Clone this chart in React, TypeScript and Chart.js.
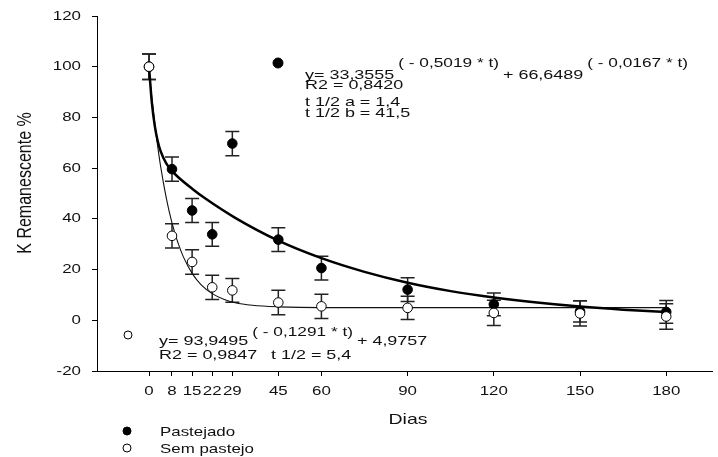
import React, { useEffect, useRef } from 'react';
import { Chart, registerables } from 'chart.js';

Chart.register(...registerables);

// Days of sampling (x axis) and tick labels
const dias = [0, 8, 15, 22, 29, 45, 60, 90, 120, 150, 180];
const yTicks = [-20, 0, 20, 40, 60, 80, 100, 120];

// K remaining (%) and standard errors
const pastejado = [100, 59.6, 43.3, 33.9, 69.7, 31.8, 20.6, 12.1, 6.3, 3.5, 3.3];
const pastejadoErr = [5, 4.8, 4.7, 4.7, 4.8, 4.7, 4.7, 4.7, 4.5, 4.2, 4.5];
const semPastejo = [100, 33.3, 23, 13, 11.8, 7, 5.5, 4.9, 2.9, 2.7, 1.5];
const semPastejoErr = [5, 4.8, 4.8, 4.8, 4.7, 4.8, 4.8, 4.6, 5, 5, 5];

// fitted curves
const pastejadoCurveT = [0, 1, 2, 3, 4, 6, 8, 10, 15, 20, 30, 45, 60, 75, 90, 105, 120, 135, 150, 165, 180];
const pastejadoCurve = [100, 85.7, 76.7, 70.8, 66.8, 61.9, 58.9, 56.6, 51.9, 47.7, 40.4, 31.4, 24.5, 19.1, 14.8, 11.5, 9.0, 7.0, 5.4, 4.2, 3.3];
const semCurveT = [0, 1, 2, 3, 4, 6, 8, 10, 12, 15, 18, 22, 26, 30, 36, 45, 60, 90, 120, 150, 180];
const semCurve = [98.9, 87.6, 77.6, 68.8, 61.0, 48.3, 38.4, 30.8, 24.9, 18.5, 14.2, 10.5, 8.3, 6.9, 5.9, 5.3, 5.0, 5.0, 5.0, 5.0, 5.0];

const FONT = '"Liberation Sans", Arial, sans-serif';

// draws text stretched sideways like the original; returns the end x
function txt(ctx: CanvasRenderingContext2D, s: string, x: number, y: number, size: number, align: CanvasTextAlign = 'left', base: CanvasTextBaseline = 'alphabetic', sx = 1.3) {
  ctx.save();
  ctx.font = `${size}px ${FONT}`;
  ctx.fillStyle = '#111';
  ctx.textAlign = align;
  ctx.textBaseline = base;
  const w = ctx.measureText(s).width * sx;
  ctx.translate(x, y);
  ctx.scale(sx, 1);
  ctx.fillText(s, 0, 0);
  ctx.restore();
  return x + w;
}

function dot(ctx: CanvasRenderingContext2D, x: number, y: number, r: number, filled: boolean) {
  ctx.save();
  ctx.beginPath();
  ctx.arc(x, y, r, 0, Math.PI * 2);
  ctx.fillStyle = filled ? '#000' : '#fff';
  ctx.fill();
  ctx.lineWidth = 1;
  ctx.strokeStyle = '#000';
  ctx.stroke();
  ctx.restore();
}

const errorBars = {
  id: 'errorBars',
  beforeDatasetsDraw(chart: any) {
    const { ctx } = chart;
    const xs = chart.scales.x;
    const ys = chart.scales.y;
    ctx.save();
    ctx.strokeStyle = '#222';
    ctx.lineWidth = 1.5;
    const series: [number[], number[]][] = [[pastejado, pastejadoErr], [semPastejo, semPastejoErr]];
    series.forEach(([vals, errs]) => {
      vals.forEach((v, i) => {
        const x = xs.getPixelForValue(dias[i]);
        const t = ys.getPixelForValue(v + errs[i]);
        const b = ys.getPixelForValue(v - errs[i]);
        ctx.beginPath();
        ctx.moveTo(x, t); ctx.lineTo(x, b);
        ctx.moveTo(x - 7, t); ctx.lineTo(x + 7, t);
        ctx.moveTo(x - 7, b); ctx.lineTo(x + 7, b);
        ctx.stroke();
      });
    });
    ctx.restore();
  },
};

const texts = {
  id: 'texts',
  afterDraw(chart: any) {
    const { ctx } = chart;
    const xs = chart.scales.x;
    const ys = chart.scales.y;
    dias.forEach(d => txt(ctx, String(d), xs.getPixelForValue(d), 395, 13, 'center'));
    yTicks.forEach(v => txt(ctx, String(v), 81, ys.getPixelForValue(v), 13, 'right', 'middle'));

    txt(ctx, 'Dias', 408, 424, 15, 'center');
    ctx.save();
    ctx.translate(25, 183);
    ctx.rotate(-Math.PI / 2);
    ctx.scale(1, 1.3);
    ctx.font = `16px ${FONT}`;
    ctx.fillStyle = '#111';
    ctx.textAlign = 'center';
    ctx.textBaseline = 'middle';
    ctx.fillText('K Remanescente %', 0, 0);
    ctx.restore();

    const a = 1.38;
    const L = 'left';
    const B = 'alphabetic';

    // equation for Pastejado
    dot(ctx, 278, 63, 5, true);
    let x = txt(ctx, 'y= 33,3555', 305, 79, 13, L, B, a);
    x = txt(ctx, '( - 0,5019 * t)', x + 4, 67, 12.5, L, B, a);
    x = txt(ctx, '+ 66,6489', x + 4, 79, 13, L, B, a);
    txt(ctx, '( - 0,0167 * t)', x + 4, 67, 12.5, L, B, a);
    txt(ctx, 'R2 = 0,8420', 305, 89, 13, L, B, a);
    txt(ctx, 't 1/2 a = 1,4', 305, 106, 13, L, B, a);
    txt(ctx, 't 1/2 b = 41,5', 305, 117, 13, L, B, a);

    // equation for Sem pastejo
    dot(ctx, 128, 335, 4, false);
    x = txt(ctx, 'y= 93,9495', 159, 345, 13, L, B, a);
    x = txt(ctx, '( - 0,1291 * t)', x + 4, 336, 12.5, L, B, a);
    txt(ctx, '+ 4,9757', x + 4, 345, 13, L, B, a);
    txt(ctx, 'R2 = 0,9847', 159, 359, 13, L, B, a);
    txt(ctx, 't 1/2 = 5,4', 271, 359, 13, L, B, a);

    // legend
    dot(ctx, 127, 431, 4, true);
    txt(ctx, 'Pastejado', 160, 436, 13);
    dot(ctx, 127, 448, 4, false);
    txt(ctx, 'Sem pastejo', 160, 453, 13);
  },
};

const App: React.FC = () => {
  const canvasRef = useRef<HTMLCanvasElement | null>(null);

  useEffect(() => {
    if (!canvasRef.current) return;
    const ctx = canvasRef.current.getContext('2d');
    if (!ctx) return;

    const chart = new Chart(ctx, {
      type: 'scatter',
      data: {
        datasets: [
          {
            label: 'Sem pastejo',
            data: dias.map((d, i) => ({ x: d, y: semPastejo[i] })),
            backgroundColor: '#fff',
            borderColor: '#000',
            borderWidth: 1,
            pointRadius: 4.8,
            order: 0,
          },
          {
            label: 'Pastejado',
            data: dias.map((d, i) => ({ x: d, y: pastejado[i] })),
            backgroundColor: '#000',
            borderColor: '#000',
            borderWidth: 1,
            pointRadius: 4.8,
            order: 1,
          },
          {
            label: 'fit pastejado',
            type: 'line',
            data: pastejadoCurveT.map((t, i) => ({ x: t, y: pastejadoCurve[i] })),
            borderColor: '#000',
            borderWidth: 2.5,
            pointRadius: 0,
            cubicInterpolationMode: 'monotone',
            fill: false,
            order: 2,
          } as any,
          {
            label: 'fit sem pastejo',
            type: 'line',
            data: semCurveT.map((t, i) => ({ x: t, y: semCurve[i] })),
            borderColor: '#111',
            borderWidth: 1.1,
            pointRadius: 0,
            cubicInterpolationMode: 'monotone',
            fill: false,
            order: 3,
          } as any,
        ],
      },
      options: {
        responsive: false,
        animation: false,
        devicePixelRatio: 1,
        layout: { padding: { top: 16, left: 0, right: 0, bottom: 0 } },
        plugins: { legend: { display: false }, tooltip: { enabled: false } },
        scales: {
          x: {
            type: 'linear',
            min: -18.1,
            max: 196,
            afterBuildTicks: (s: any) => { s.ticks = dias.map(v => ({ value: v })); },
            afterFit: (s: any) => { s.height = 86; },
            ticks: { display: false },
            grid: { drawOnChartArea: false, drawTicks: true, tickLength: 5, color: '#000', lineWidth: 1 },
            border: { color: '#000', width: 1 },
          },
          y: {
            min: -20,
            max: 120,
            afterBuildTicks: (s: any) => { s.ticks = yTicks.map(v => ({ value: v })); },
            afterFit: (s: any) => { s.width = 97; },
            ticks: { display: false },
            grid: { drawOnChartArea: false, drawTicks: true, tickLength: 5, color: '#000', lineWidth: 1 },
            border: { color: '#000', width: 1 },
          },
        },
      },
      plugins: [errorBars, texts],
    });

    return () => {
      chart.destroy();
    };
  }, []);

  return (
    <div style={{ position: 'fixed', left: 0, top: 0, width: 718, height: 457, background: '#fff' }}>
      <canvas ref={canvasRef} width={718} height={457} style={{ display: 'block' }} />
    </div>
  );
};

export default App;
